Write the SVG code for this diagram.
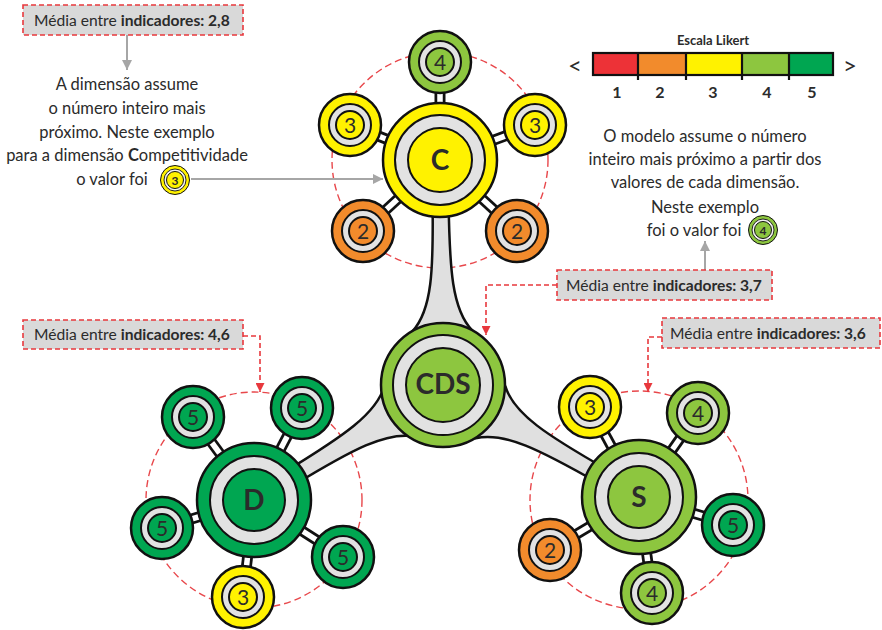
<svg xmlns="http://www.w3.org/2000/svg" width="882" height="630" viewBox="0 0 882 630">
<style>
text{font-family:Lato,"Open Sans","Liberation Sans",sans-serif;fill:#2b2b2b}
.body{font-size:16.5px;text-anchor:middle}
.lbl{font-size:15.6px}
.b{font-weight:bold}
.box{fill:#d9d9d9;stroke:#e8383d;stroke-width:1.6;stroke-dasharray:5 3}
.dash{fill:none;stroke:#e8383d;stroke-width:1.6;stroke-dasharray:5 3}
.ring-d{fill:none;stroke:#e8474b;stroke-width:1.4;stroke-dasharray:7 4}
.gline{stroke:#a6a6a6;stroke-width:2;fill:none}
.arm{fill:#e0e0e0;stroke:#111;stroke-width:2.5;stroke-linejoin:round}
.barb{stroke:#111;stroke-width:11}
.barw{stroke:#fff;stroke-width:5.5}
.o1{stroke:#111;stroke-width:2.5}
.rg{fill:#e2e2e2;stroke:#111;stroke-width:2}
.i1{stroke:#111;stroke-width:2}
.y{fill:#fff200}.o{fill:#f28b2c}.lg{fill:#8dc63f}.g{fill:#00a651}.r{fill:#ed3237}
.num{font-size:21px;text-anchor:middle}
.big{font-size:28px;font-weight:bold;text-anchor:middle}
.sc{stroke:#111;stroke-width:2.2}
.mini{stroke:#111;stroke-width:1}
.minir{fill:#f2f2f2;stroke:#111;stroke-width:0.9}
.mnum{font-size:12px;font-weight:bold;text-anchor:middle}
</style>
<defs>
<path id="armp" d="M 40,-8 C 110,-8 150,-10 171,-30 L 205,-30 L 205,30 L 171,30 C 150,10 110,8 40,8 Z"/>
<marker id="ag" viewBox="0 0 10 10" refX="10" refY="5" markerWidth="10" markerHeight="10" markerUnits="userSpaceOnUse" orient="auto"><path d="M0,0 L10,5 L0,10 Z" fill="#a6a6a6"/></marker>
<marker id="ar" viewBox="0 0 10 10" refX="10" refY="5" markerWidth="9" markerHeight="9" markerUnits="userSpaceOnUse" orient="auto"><path d="M0,0 L10,5 L0,10 Z" fill="#e8383d"/></marker>
</defs>
<rect width="882" height="630" fill="#fff"/>

<g id="dashed-rings">
<circle class="ring-d" cx="440" cy="160" r="108"/>
<circle class="ring-d" cx="254" cy="500" r="108"/>
<circle class="ring-d" cx="639" cy="500" r="109"/>
</g>

<g id="connectors">
<use href="#armp" class="arm" transform="translate(440,160) rotate(89.2)"/>
<use href="#armp" class="arm" transform="translate(254,500) rotate(-31.3)"/>
<use href="#armp" class="arm" transform="translate(639,497) rotate(-150.3)"/>
<g>
<line class="barb" x1="440" y1="62" x2="440" y2="160"/><line class="barw" x1="440" y1="62" x2="440" y2="160"/>
<line class="barb" x1="350" y1="125" x2="440" y2="160"/><line class="barw" x1="350" y1="125" x2="440" y2="160"/>
<line class="barb" x1="535" y1="125" x2="440" y2="160"/><line class="barw" x1="535" y1="125" x2="440" y2="160"/>
<line class="barb" x1="363" y1="231" x2="440" y2="160"/><line class="barw" x1="363" y1="231" x2="440" y2="160"/>
<line class="barb" x1="517" y1="231" x2="440" y2="160"/><line class="barw" x1="517" y1="231" x2="440" y2="160"/>
<line class="barb" x1="193" y1="417" x2="254" y2="500"/><line class="barw" x1="193" y1="417" x2="254" y2="500"/>
<line class="barb" x1="302" y1="408" x2="254" y2="500"/><line class="barw" x1="302" y1="408" x2="254" y2="500"/>
<line class="barb" x1="162" y1="528" x2="254" y2="500"/><line class="barw" x1="162" y1="528" x2="254" y2="500"/>
<line class="barb" x1="343" y1="557" x2="254" y2="500"/><line class="barw" x1="343" y1="557" x2="254" y2="500"/>
<line class="barb" x1="243" y1="597" x2="254" y2="500"/><line class="barw" x1="243" y1="597" x2="254" y2="500"/>
<line class="barb" x1="590" y1="407" x2="639" y2="497"/><line class="barw" x1="590" y1="407" x2="639" y2="497"/>
<line class="barb" x1="698" y1="413" x2="639" y2="497"/><line class="barw" x1="698" y1="413" x2="639" y2="497"/>
<line class="barb" x1="733" y1="525" x2="639" y2="497"/><line class="barw" x1="733" y1="525" x2="639" y2="497"/>
<line class="barb" x1="652" y1="593" x2="639" y2="497"/><line class="barw" x1="652" y1="593" x2="639" y2="497"/>
<line class="barb" x1="550" y1="550" x2="639" y2="497"/><line class="barw" x1="550" y1="550" x2="639" y2="497"/>
</g>
<line class="gline" x1="127" y1="35" x2="127" y2="70" marker-end="url(#ag)"/>
<line class="gline" x1="191" y1="179" x2="383" y2="179" marker-end="url(#ag)"/>
<line class="gline" x1="705" y1="270" x2="705" y2="241" marker-end="url(#ag)"/>
<path class="dash" d="M557,285 H486 V335" marker-end="url(#ar)"/>
<path class="dash" d="M243,336 H260 V392" marker-end="url(#ar)"/>
<path class="dash" d="M662,337 H648 V392" marker-end="url(#ar)"/>
</g>

<g id="node-C" transform="translate(440,160)">
<circle class="o1 y" r="57"/><circle class="rg" r="45"/><circle class="i1 y" r="32"/>
<text class="big" y="10">C</text></g>
<g id="node-CDS" transform="translate(443,385)">
<circle class="o1 lg" r="62"/><circle class="rg" r="50"/><circle class="i1 lg" r="37"/>
<text class="big" y="9" font-size="25">CDS</text></g>
<g id="node-D" transform="translate(254,500)">
<circle class="o1 g" r="57"/><circle class="rg" r="44"/><circle class="i1 g" r="31"/>
<text class="big" y="10">D</text></g>
<g id="node-S" transform="translate(639,497)">
<circle class="o1 lg" r="57"/><circle class="rg" r="44"/><circle class="i1 lg" r="31"/>
<text class="big" y="10">S</text></g>

<g id="c-sat-1" transform="translate(440,62)"><circle class="o1 lg" r="31"/><circle class="rg" r="21"/><circle class="i1 lg" r="14"/><text class="num" y="7.5">4</text></g>
<g id="c-sat-2" transform="translate(350,125)"><circle class="o1 y" r="31"/><circle class="rg" r="21"/><circle class="i1 y" r="14"/><text class="num" y="7.5">3</text></g>
<g id="c-sat-3" transform="translate(535,125)"><circle class="o1 y" r="31"/><circle class="rg" r="21"/><circle class="i1 y" r="14"/><text class="num" y="7.5">3</text></g>
<g id="c-sat-4" transform="translate(363,231)"><circle class="o1 o" r="31"/><circle class="rg" r="21"/><circle class="i1 o" r="14"/><text class="num" y="7.5">2</text></g>
<g id="c-sat-5" transform="translate(517,231)"><circle class="o1 o" r="31"/><circle class="rg" r="21"/><circle class="i1 o" r="14"/><text class="num" y="7.5">2</text></g>

<g id="d-sat-1" transform="translate(193,417)"><circle class="o1 g" r="31"/><circle class="rg" r="21"/><circle class="i1 g" r="14"/><text class="num" y="7.5">5</text></g>
<g id="d-sat-2" transform="translate(302,408)"><circle class="o1 g" r="31"/><circle class="rg" r="21"/><circle class="i1 g" r="14"/><text class="num" y="7.5">5</text></g>
<g id="d-sat-3" transform="translate(162,528)"><circle class="o1 g" r="31"/><circle class="rg" r="21"/><circle class="i1 g" r="14"/><text class="num" y="7.5">5</text></g>
<g id="d-sat-4" transform="translate(343,557)"><circle class="o1 g" r="31"/><circle class="rg" r="21"/><circle class="i1 g" r="14"/><text class="num" y="7.5">5</text></g>
<g id="d-sat-5" transform="translate(243,597)"><circle class="o1 y" r="31"/><circle class="rg" r="21"/><circle class="i1 y" r="14"/><text class="num" y="7.5">3</text></g>

<g id="s-sat-1" transform="translate(590,407)"><circle class="o1 y" r="31"/><circle class="rg" r="21"/><circle class="i1 y" r="14"/><text class="num" y="7.5">3</text></g>
<g id="s-sat-2" transform="translate(698,413)"><circle class="o1 lg" r="31"/><circle class="rg" r="21"/><circle class="i1 lg" r="14"/><text class="num" y="7.5">4</text></g>
<g id="s-sat-3" transform="translate(733,525)"><circle class="o1 g" r="31"/><circle class="rg" r="21"/><circle class="i1 g" r="14"/><text class="num" y="7.5">5</text></g>
<g id="s-sat-4" transform="translate(652,593)"><circle class="o1 lg" r="31"/><circle class="rg" r="21"/><circle class="i1 lg" r="14"/><text class="num" y="7.5">4</text></g>
<g id="s-sat-5" transform="translate(550,550)"><circle class="o1 o" r="31"/><circle class="rg" r="21"/><circle class="i1 o" r="14"/><text class="num" y="7.5">2</text></g>

<g id="label-C">
<rect class="box" x="23" y="5" width="220" height="30"/>
<text class="lbl" x="34" y="26">Média entre <tspan class="b">indicadores: 2,8</tspan></text>
</g>
<g id="label-CDS">
<rect class="box" x="557" y="270" width="215" height="30"/>
<text class="lbl" x="566" y="291">Média entre <tspan class="b">indicadores: 3,7</tspan></text>
</g>
<g id="label-D">
<rect class="box" x="23" y="320" width="220" height="29"/>
<text class="lbl" x="34" y="340">Média entre <tspan class="b">indicadores: 4,6</tspan></text>
</g>
<g id="label-S">
<rect class="box" x="662" y="318" width="218" height="30"/>
<text class="lbl" x="670" y="339">Média entre <tspan class="b">indicadores: 3,6</tspan></text>
</g>

<g id="note-left">
<text class="body" x="127" y="90">A dimensão assume</text>
<text class="body" x="127" y="114">o número inteiro mais</text>
<text class="body" x="127" y="138">próximo. Neste exemplo</text>
<text class="body" x="127" y="161">para a dimensão  <tspan class="b">C</tspan>ompetitividade</text>
<text class="body" x="112" y="185">o valor foi</text>
<g transform="translate(175,180)"><circle class="mini y" r="14.5"/><circle class="minir" r="11"/><circle class="mini y" r="8.5"/><text class="mnum" y="4.5">3</text></g>
</g>

<g id="note-right">
<text class="body" x="705" y="142">O modelo assume o número</text>
<text class="body" x="705" y="165">inteiro mais próximo a partir dos</text>
<text class="body" x="705" y="188">valores de cada dimensão.</text>
<text class="body" x="705" y="213">Neste exemplo</text>
<text class="body" x="694" y="236">foi o valor foi</text>
<g transform="translate(763,230)"><circle class="mini lg" r="14.5"/><circle class="minir" r="11"/><circle class="mini lg" r="8.5"/><text class="mnum" y="4.5">4</text></g>
</g>

<g id="likert">
<text x="713" y="45" font-size="13" font-weight="bold" text-anchor="middle">Escala Likert</text>
<rect class="r" x="593" y="53" width="45" height="22"/>
<rect class="o" x="638" y="53" width="48" height="22"/>
<rect class="y" x="686" y="53" width="56" height="22"/>
<rect class="lg" x="742" y="53" width="47" height="22"/>
<rect class="g" x="789" y="53" width="44" height="22"/>
<rect x="593" y="53" width="240" height="22" fill="none" stroke="#111" stroke-width="2.2"/>
<line class="sc" x1="638" y1="52" x2="638" y2="80"/>
<line class="sc" x1="686" y1="52" x2="686" y2="80"/>
<line class="sc" x1="742" y1="52" x2="742" y2="80"/>
<line class="sc" x1="789" y1="52" x2="789" y2="80"/>
<text x="617" y="98" font-size="16" font-weight="bold" text-anchor="middle">1</text>
<text x="660" y="98" font-size="16" font-weight="bold" text-anchor="middle">2</text>
<text x="713" y="98" font-size="16" font-weight="bold" text-anchor="middle">3</text>
<text x="767" y="98" font-size="16" font-weight="bold" text-anchor="middle">4</text>
<text x="812" y="98" font-size="16" font-weight="bold" text-anchor="middle">5</text>
<text x="575" y="74" font-size="24" text-anchor="middle">&lt;</text>
<text x="850" y="74" font-size="24" text-anchor="middle">&gt;</text>
</g>
</svg>
